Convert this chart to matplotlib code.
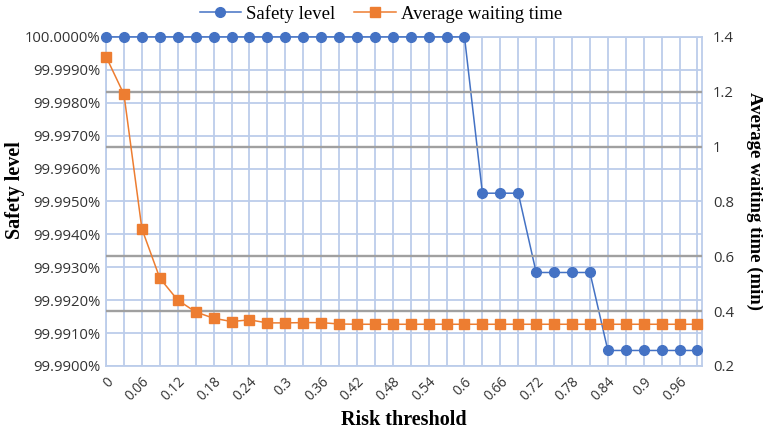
import numpy as np
import matplotlib
matplotlib.use("Agg")
import matplotlib.pyplot as plt

# risk thresholds 0, 0.03, ..., 0.99 (category axis)
thresholds = ["0", "0.03", "0.06", "0.09", "0.12", "0.15", "0.18", "0.21", "0.24", "0.27",
              "0.3", "0.33", "0.36", "0.39", "0.42", "0.45", "0.48", "0.51", "0.54", "0.57",
              "0.6", "0.63", "0.66", "0.69", "0.72", "0.75", "0.78", "0.81", "0.84", "0.87",
              "0.9", "0.93", "0.96", "0.99"]

# safety level (%)
safety = [100.0] * 21 + [99.99525] * 3 + [99.99284] * 4 + [99.99047] * 6

# average waiting time (min)
waiting = [1.328, 1.19, 0.70, 0.52, 0.44, 0.397, 0.374, 0.362, 0.368, 0.357,
           0.357, 0.358, 0.358, 0.353, 0.352, 0.352, 0.352, 0.352, 0.352, 0.352,
           0.352, 0.352, 0.352, 0.352, 0.352, 0.352, 0.352, 0.352, 0.352, 0.352,
           0.352, 0.352, 0.352, 0.352]

left_ticks = np.round(np.linspace(99.99, 100.0, 11), 4)
right_ticks = [0.2, 0.4, 0.6, 0.8, 1.0, 1.2, 1.4]
right_labels = ["0.2", "0.4", "0.6", "0.8", "1", "1.2", "1.4"]

blue = "#4472C4"
orange = "#ED7D31"
grid_blue = "#BCCDEA"
grid_gray = "#A0A0A0"
tick_font = "Open Sans"
title_font = ["Liberation Serif", "DejaVu Serif"]

fig = plt.figure(figsize=(7.63, 4.29), dpi=100)
ax = fig.add_axes([0.139, 0.147, 0.781, 0.767])
ax2 = ax.twinx()

x = np.arange(len(thresholds))

# left axis: safety
ax.plot(x, safety, color=blue, marker="o", markersize=7, linewidth=1.1,
        label="Safety level", clip_on=False, zorder=3)
ax.set_ylim(99.99, 100.0)
ax.set_yticks(left_ticks)
ax.set_yticklabels([f"{v:.4f}%" for v in left_ticks], fontfamily=tick_font, fontsize=10.7)
ax.set_xlim(0, 33.25)
ax.set_xticks(x, minor=True)
ax.set_xticks(x[::2])
ax.set_xticklabels(thresholds[::2], rotation=45, ha="right", rotation_mode="anchor",
                   fontfamily=tick_font, fontsize=9.8)
ax.grid(True, which="both", axis="x", color=grid_blue, linewidth=1.3)
ax.grid(True, which="major", axis="y", color=grid_blue, linewidth=1.3)
ax.tick_params(which="both", length=0, pad=4, colors="#333333")
ax.tick_params(axis="x", pad=6)
for s in ax.spines.values():
    s.set_color(grid_blue)
    s.set_linewidth(1.3)

# right axis: waiting time
ax2.plot(x, waiting, color=orange, marker="s", markersize=7.5, linewidth=1.1,
         label="Average waiting time", clip_on=False, zorder=3)
ax2.set_ylim(0.2, 1.4)
ax2.set_yticks(right_ticks)
ax2.set_yticklabels(right_labels, fontfamily=tick_font, fontsize=10.7)
ax2.grid(True, axis="y", color=grid_gray, linewidth=1.7)
for i, gl in enumerate(ax2.get_ygridlines()):
    if right_ticks[i] in (0.2, 0.8, 1.4):
        gl.set_visible(False)
ax2.tick_params(length=0, pad=8, colors="#333333")
for s in ax2.spines.values():
    s.set_visible(False)

ax.set_xlabel("Risk threshold", fontfamily=title_font, fontweight="bold", fontsize=14.5, labelpad=4)
ax.set_ylabel("Safety level", fontfamily=title_font, fontweight="bold", fontsize=14.5,
              va="center")
ax.yaxis.set_label_coords(-0.153, 0.535)
ax2.set_ylabel("Average waiting time (min)", fontfamily=title_font, fontweight="bold",
               fontsize=13.5, rotation=-90, va="center")
ax2.yaxis.set_label_coords(1.088, 0.5)

h1, l1 = ax.get_legend_handles_labels()
h2, l2 = ax2.get_legend_handles_labels()
fig.legend(h1 + h2, l1 + l2, loc="center", bbox_to_anchor=(0.4995, 0.968), ncol=2,
           frameon=False, prop={"family": title_font, "size": 13.5},
           handlelength=2.2, columnspacing=1.0, handletextpad=0.3)

fig.savefig("out.png", dpi=100)
